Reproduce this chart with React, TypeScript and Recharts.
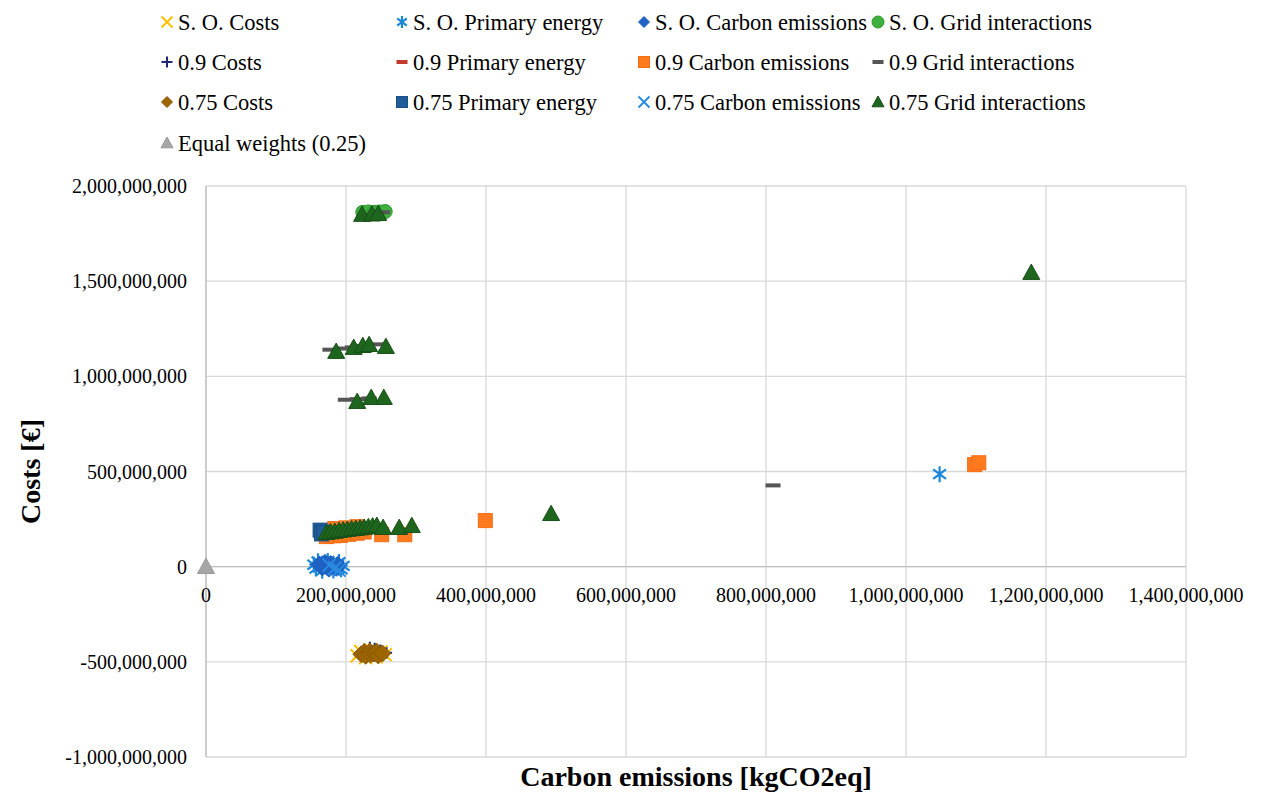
import React from 'react'
import { ScatterChart, Scatter, XAxis, YAxis, CartesianGrid, ReferenceLine } from 'recharts'

// values in millions: [carbon emissions kgCO2eq, costs €]
type Pt = [number, number]

const soCosts: Pt[] = [[216, -468], [221, -446], [228, -478], [236, -440], [243, -474], [250, -448], [256, -462], [231, -452]]
const soPrimary: Pt[] = [
  [154, 10], [157, -10], [160, 28], [166, -22], [174, 30], [182, -20], [190, 24], [196, 4], [193, -14], [1048, 486],
]
const soCarbon: Pt[] = [
  [162, 12], [166, -4], [168, 6], [170, 20], [172, 4], [176, -10], [178, 14], [182, 2], [186, -6], [188, 10],
]
const soGrid: Pt[] = [[224, 1862], [232, 1864], [240, 1862], [248, 1864], [256, 1866]]
const w90Costs: Pt[] = [[226, -432], [234, -424], [241, -428], [249, -438], [258, -452]]
const w90Primary: Pt[] = [[178, 188], [196, 194], [214, 200]]
const w90Carbon: Pt[] = [
  [172, 158], [182, 162], [192, 164], [204, 170], [216, 176], [226, 182], [184, 200], [200, 204], [216, 210],
  [251, 168], [284, 168], [399, 242], [1098, 536], [1104, 546],
]
const w90Grid: Pt[] = [
  [177, 1140], [193, 1146], [209, 1152], [226, 1160], [243, 1168], [252, 1862],
  [199, 877], [216, 880], [233, 884], [810, 427], [190, 192], [230, 208],
]
const w75Costs: Pt[] = [
  [222, -460], [226, -450], [228, -468], [234, -446], [235, -462], [240, -456], [244, -448], [246, -466], [252, -456],
]
const w75Primary: Pt[] = [[163, 192], [165, 172], [168, 182]]
const w75Carbon: Pt[] = [[176, 8], [184, -8], [190, -18]]
const w75Grid: Pt[] = [
  [223, 1850], [237, 1852], [246, 1854],
  [186, 1130], [211, 1151], [224, 1161], [233, 1166], [257, 1156],
  [216, 867], [236, 888], [254, 888],
  [172, 178], [178, 182], [184, 185], [190, 189], [196, 192], [202, 195], [208, 198], [214, 200],
  [220, 203], [226, 206], [232, 209], [238, 213], [244, 216], [253, 205], [276, 205], [294, 215],
  [493, 278], [1179, 1545],
]
const equalWeights: Pt[] = [[0, 0]]

const xTicks = [0, 200, 400, 600, 800, 1000, 1200, 1400]
const yTicks = [-1000, -500, 0, 500, 1000, 1500, 2000]

type Kind = 'x' | 'star' | 'diamond' | 'circle' | 'plus' | 'dash' | 'square' | 'triangle'

const SERIES: { name: string; data: Pt[]; kind: Kind; fill: string; stroke: string }[] = [
  { name: 'S. O. Costs', data: soCosts, kind: 'x', fill: '#FFC000', stroke: '#FFC000' },
  { name: 'S. O. Primary energy', data: soPrimary, kind: 'star', fill: '#1C88DC', stroke: '#1C88DC' },
  { name: 'S. O. Carbon emissions', data: soCarbon, kind: 'diamond', fill: '#1F62C4', stroke: '#1F62C4' },
  { name: 'S. O. Grid interactions', data: soGrid, kind: 'circle', fill: '#3DB03D', stroke: '#2F9A2F' },
  { name: '0.9 Costs', data: w90Costs, kind: 'plus', fill: '#1F2A6E', stroke: '#1F2A6E' },
  { name: '0.9 Primary energy', data: w90Primary, kind: 'dash', fill: '#C0392B', stroke: '#C0392B' },
  { name: '0.9 Carbon emissions', data: w90Carbon, kind: 'square', fill: '#FF7A1F', stroke: '#F56E14' },
  { name: '0.9 Grid interactions', data: w90Grid, kind: 'dash', fill: '#555555', stroke: '#555555' },
  { name: '0.75 Costs', data: w75Costs, kind: 'diamond', fill: '#9C6500', stroke: '#8A5800' },
  { name: '0.75 Primary energy', data: w75Primary, kind: 'square', fill: '#1F5C99', stroke: '#1A4F85' },
  { name: '0.75 Carbon emissions', data: w75Carbon, kind: 'x', fill: '#2A8BE0', stroke: '#2A8BE0' },
  { name: '0.75 Grid interactions', data: w75Grid, kind: 'triangle', fill: '#1E651E', stroke: '#174F17' },
  { name: 'Equal weights (0.25)', data: equalWeights, kind: 'triangle', fill: '#A6A6A6', stroke: '#999999' },
]

const CHART_W = 1266
const CHART_H = 795
const MARGIN = { top: 186, right: 80, bottom: 0, left: 0 }
const Y_AXIS_W = 206
const X_AXIS_H = 38
const PLOT_H = CHART_H - MARGIN.top - MARGIN.bottom - X_AXIS_H
const Y_MIN = -1000
const Y_MAX = 2000
// distance from the bottom of the plot up to the zero line, where the x labels sit
const ZERO_SHIFT = (PLOT_H * (0 - Y_MIN)) / (Y_MAX - Y_MIN)

const FONT = '"Liberation Serif", "Times New Roman", serif'

const fmt = (v: number) => (v * 1e6).toLocaleString('en-US')

const PLOT_SIZE: Record<Kind, number> = {
  x: 13, star: 16, diamond: 17, circle: 14, plus: 11, dash: 15, square: 14, triangle: 17,
}
const LEGEND_SIZE: Record<Kind, number> = {
  x: 11, star: 12, diamond: 11, circle: 12, plus: 11, dash: 11, square: 11, triangle: 12,
}

function Marker({ kind, fill, stroke, cx, cy, s }: { kind: Kind; fill: string; stroke: string; cx: number; cy: number; s: number }) {
  const h = s / 2
  switch (kind) {
    case 'x':
      return (
        <path d={`M${cx - h},${cy - h}L${cx + h},${cy + h}M${cx - h},${cy + h}L${cx + h},${cy - h}`}
          stroke={stroke} strokeWidth={2} fill="none" />
      )
    case 'star':
      return (
        <path
          d={`M${cx - h * 0.8},${cy - h * 0.6}L${cx + h * 0.8},${cy + h * 0.6}M${cx - h * 0.8},${cy + h * 0.6}L${cx + h * 0.8},${cy - h * 0.6}M${cx},${cy - h}L${cx},${cy + h}`}
          stroke={stroke} strokeWidth={2.2} fill="none" />
      )
    case 'plus':
      return (
        <path d={`M${cx - h},${cy}L${cx + h},${cy}M${cx},${cy - h}L${cx},${cy + h}`}
          stroke={stroke} strokeWidth={2} fill="none" />
      )
    case 'dash':
      return <rect x={cx - h} y={cy - 2} width={s} height={4} fill={fill} />
    case 'square':
      return <rect x={cx - h} y={cy - h} width={s} height={s} fill={fill} stroke={stroke} strokeWidth={1} />
    case 'diamond':
      return (
        <path d={`M${cx},${cy - h}L${cx + h},${cy}L${cx},${cy + h}L${cx - h},${cy}Z`}
          fill={fill} stroke={stroke} strokeWidth={1} />
      )
    case 'circle':
      return <circle cx={cx} cy={cy} r={h} fill={fill} stroke={stroke} strokeWidth={1} />
    case 'triangle':
      return (
        <path d={`M${cx},${cy - h}L${cx + h},${cy + h * 0.8}L${cx - h},${cy + h * 0.8}Z`}
          fill={fill} stroke={stroke} strokeWidth={1} />
      )
  }
}

const LEGEND_COL_X = [167, 402, 644, 878]
const LEGEND_ROW_Y = [22, 62, 102, 143]

function LegendBlock() {
  return (
    <svg width={CHART_W} height={170} style={{ position: 'absolute', left: 0, top: 0 }}>
      {SERIES.map((s, i) => {
        const cx = LEGEND_COL_X[i % 4]
        const cy = LEGEND_ROW_Y[Math.floor(i / 4)]
        return (
          <g key={s.name}>
            <Marker kind={s.kind} fill={s.fill} stroke={s.stroke} cx={cx} cy={cy} s={LEGEND_SIZE[s.kind]} />
            <text x={cx + 11} y={cy + 7.5} fontFamily={FONT} fontSize={22.5} fill="#000">{s.name}</text>
          </g>
        )
      })}
    </svg>
  )
}

function XTick({ x, y, payload }: any) {
  return (
    <text x={x} y={y - ZERO_SHIFT + 35} textAnchor="middle" fontFamily={FONT} fontSize={20} fill="#000">
      {fmt(payload.value)}
    </text>
  )
}

export default function App() {
  return (
    <div style={{ position: 'absolute', left: 0, top: 0, width: CHART_W, height: CHART_H, background: '#fff' }}>
      <LegendBlock />
      <ScatterChart width={CHART_W} height={CHART_H} margin={MARGIN}>
        <CartesianGrid stroke="#d9d9d9" strokeWidth={1.3} />
        <XAxis
          type="number"
          dataKey="x"
          domain={[0, 1400]}
          ticks={xTicks}
          height={X_AXIS_H}
          axisLine={false}
          tickLine={false}
          tickSize={0}
          tickMargin={0}
          tick={<XTick />}
          interval={0}
          label={{
            content: ({ viewBox }: any) => (
              <text x={viewBox.x + viewBox.width / 2} y={viewBox.y + viewBox.height - 9} textAnchor="middle"
                fontFamily={FONT} fontSize={28} fontWeight="bold" fill="#000">
                Carbon emissions [kgCO2eq]
              </text>
            ),
          }}
        />
        <YAxis
          type="number"
          dataKey="y"
          domain={[Y_MIN, Y_MAX]}
          ticks={yTicks}
          width={Y_AXIS_W}
          axisLine={{ stroke: '#bfbfbf', strokeWidth: 1.3 }}
          tickLine={false}
          tickSize={0}
          tickMargin={19}
          interval={0}
          tickFormatter={fmt}
          tick={{ fontFamily: FONT, fontSize: 20, fill: '#000' }}
          label={{
            content: ({ viewBox }: any) => {
              const cx = 30
              const cy = viewBox.y + viewBox.height / 2
              return (
                <text x={cx} y={cy} transform={`rotate(-90, ${cx}, ${cy})`} textAnchor="middle" dominantBaseline="central"
                  fontFamily={FONT} fontSize={28} fontWeight="bold" fill="#000">
                  Costs [€]
                </text>
              )
            },
          }}
        />
        <ReferenceLine y={0} stroke="#bfbfbf" strokeWidth={1.3} />
        {SERIES.map((s) => (
          <Scatter
            key={s.name}
            name={s.name}
            data={s.data.map(([x, y]) => ({ x, y }))}
            isAnimationActive={false}
            shape={(p: any) => (
              <Marker kind={s.kind} fill={s.fill} stroke={s.stroke} cx={p.cx} cy={p.cy} s={PLOT_SIZE[s.kind]} />
            )}
          />
        ))}
      </ScatterChart>
    </div>
  )
}
